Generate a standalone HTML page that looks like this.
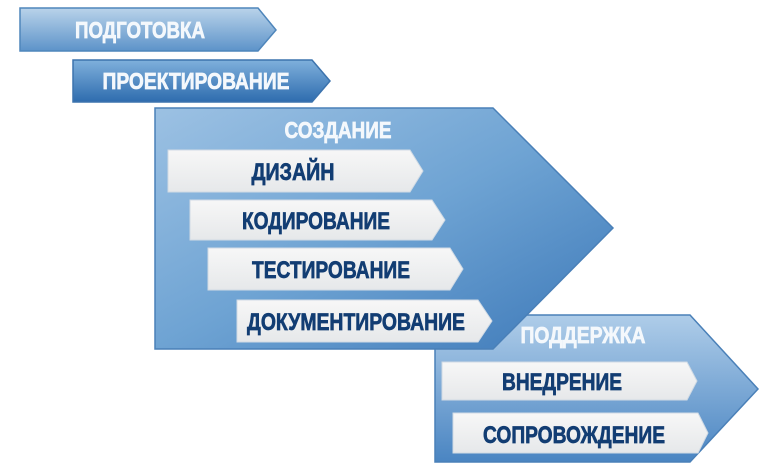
<!DOCTYPE html>
<html><head><meta charset="utf-8"><style>
html,body{margin:0;padding:0;background:#fff;width:780px;height:470px;overflow:hidden}
svg{display:block}
text{font-family:"Liberation Sans","DejaVu Sans",sans-serif;font-weight:bold}
.w{fill:#f4f8fc;stroke:#f4f8fc;stroke-width:0.7}
.d{fill:#123d73;stroke:#123d73;stroke-width:0.7}
</style></head><body>
<svg width="780" height="470" viewBox="0 0 780 470" xmlns="http://www.w3.org/2000/svg">
<defs>
<linearGradient id="g1" x1="0" y1="0" x2="0" y2="1">
<stop offset="0" stop-color="#b9d3ea"/><stop offset="1" stop-color="#5d93c9"/></linearGradient>
<linearGradient id="g2" x1="0" y1="0" x2="0" y2="1">
<stop offset="0" stop-color="#7fb0dc"/><stop offset="1" stop-color="#2e6cae"/></linearGradient>
<linearGradient id="g3" x1="0" y1="0" x2="1" y2="1">
<stop offset="0" stop-color="#9cc1e3"/><stop offset="0.5" stop-color="#6ea3d3"/><stop offset="1" stop-color="#3c78b8"/></linearGradient>
<linearGradient id="g4" x1="0" y1="0" x2="0" y2="1">
<stop offset="0" stop-color="#afcde9"/><stop offset="1" stop-color="#4a85c2"/></linearGradient>
<linearGradient id="gw" x1="0" y1="0" x2="0" y2="1">
<stop offset="0" stop-color="#f7f7f7"/><stop offset="1" stop-color="#e6e8ea"/></linearGradient>
</defs>
<polygon points="20,8 258,8 276,30 258,51 20,51" fill="url(#g1)" stroke="#4f86bb" stroke-width="1.5"/>
<text x="140" y="38" class="w" font-size="23" text-anchor="middle" textLength="130" lengthAdjust="spacingAndGlyphs">ПОДГОТОВКА</text>
<polygon points="73,60 312,60 330,81 312,102 73,102" fill="url(#g2)" stroke="#3c73ad" stroke-width="1.5"/>
<text x="196" y="89" class="w" font-size="23" text-anchor="middle" textLength="187" lengthAdjust="spacingAndGlyphs">ПРОЕКТИРОВАНИЕ</text>

<polygon points="435,315 690,315 758,389 690,462 435,462" fill="url(#g4)" stroke="#4a80b8" stroke-width="1.5"/>
<text x="583" y="343" class="w" font-size="23" text-anchor="middle" textLength="125" lengthAdjust="spacingAndGlyphs">ПОДДЕРЖКА</text>
<polygon points="442,362 687,362 697,381 687,400 442,400" fill="url(#gw)" stroke="#d0dae4"/>
<text x="562" y="390" class="d" font-size="24" text-anchor="middle" textLength="120" lengthAdjust="spacingAndGlyphs">ВНЕДРЕНИЕ</text>
<polygon points="453,413 698,413 708,433 698,453 453,453" fill="url(#gw)" stroke="#d0dae4"/>
<text x="574" y="443" class="d" font-size="24" text-anchor="middle" textLength="182" lengthAdjust="spacingAndGlyphs">СОПРОВОЖДЕНИЕ</text>

<polygon points="155,108 493,108 613,228 493,349 155,349" fill="url(#g3)" stroke="#4a80b8" stroke-width="1.5"/>
<text x="338" y="138" class="w" font-size="23" text-anchor="middle" textLength="107" lengthAdjust="spacingAndGlyphs">СОЗДАНИЕ</text>
<polygon points="168,150 410,150 423,171 410,192 168,192" fill="url(#gw)" stroke="#d0dae4"/>
<text x="293" y="180" class="d" font-size="24" text-anchor="middle" textLength="83" lengthAdjust="spacingAndGlyphs">ДИЗАЙН</text>
<polygon points="190,200 432,200 445,220 432,240 190,240" fill="url(#gw)" stroke="#d0dae4"/>
<text x="316" y="229" class="d" font-size="24" text-anchor="middle" textLength="148" lengthAdjust="spacingAndGlyphs">КОДИРОВАНИЕ</text>
<polygon points="208,248 450,248 463,269 450,290 208,290" fill="url(#gw)" stroke="#d0dae4"/>
<text x="331" y="278" class="d" font-size="24" text-anchor="middle" textLength="158" lengthAdjust="spacingAndGlyphs">ТЕСТИРОВАНИЕ</text>
<polygon points="237,300 478,300 492,321 478,342 237,342" fill="url(#gw)" stroke="#d0dae4"/>
<text x="356" y="330" class="d" font-size="24" text-anchor="middle" textLength="218" lengthAdjust="spacingAndGlyphs">ДОКУМЕНТИРОВАНИЕ</text>
</svg>
</body></html>
